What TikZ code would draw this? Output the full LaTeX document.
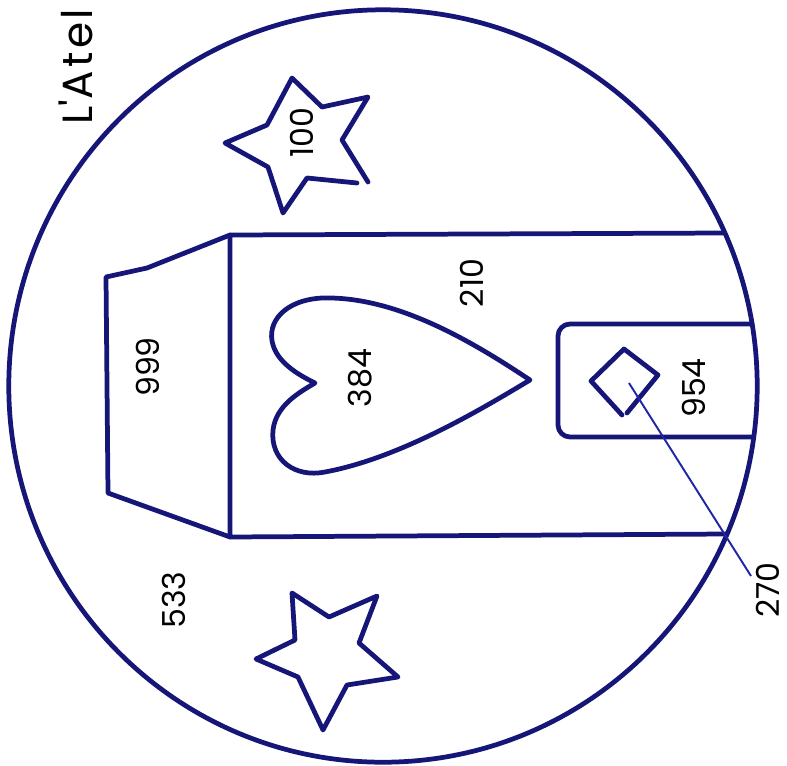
\documentclass[tikz,border=0pt]{standalone}
\usepackage{fontspec}
\setmainfont{Poppins}
\definecolor{ink}{RGB}{22,22,120}
\definecolor{leadc}{RGB}{30,40,165}
\begin{document}
\begin{tikzpicture}[x=0.01cm,y=-0.01cm,
  outline/.style={draw=ink,line width=1.35pt,line join=round,line cap=round},
  lbl/.style={rotate=90,font=\fontsize{9}{10}\selectfont,inner sep=0pt,text=black},
  leader/.style={draw=leadc,line width=0.55pt}]
\useasboundingbox (0,0) rectangle (787,766);
% outer circle
\draw[outline] (383,386) ellipse [x radius=3.74cm,y radius=3.76cm];
% title (cut off by the page edge, as in the reference)
\node[rotate=90,anchor=base west,inner sep=0pt,font=\fontsize{12}{14}\selectfont\addfontfeatures{LetterSpace=8}] (title) at (92,125) {L\textquotesingle Atel};
% top star
\draw[outline] (357,183) -- (307,178) -- (283,213) -- (268,167) -- (225,143) -- (267,125) -- (292,78) -- (322,107) -- (368,97) -- (342,140) -- (368,182);
% bottom star
\draw[outline] (292,593) -- (329,617) -- (377,596) -- (359,643) -- (398,677) -- (347,685) -- (323,730) -- (298,677) -- (256,659) -- (295,640) -- cycle;
% roof trapezoid
\draw[outline] (230,235) -- (147,268) -- (106,277) -- (108,493) -- (230,537);
% main body
\draw[outline] (724,233) -- (230,235) -- (230,537) -- (726,534);
% heart
\draw[outline] (530,380) .. controls (470,340) and (395,296) .. (322,298)
  .. controls (285,300) and (266,322) .. (273,345)
  .. controls (279,365) and (303,377) .. (315,383)
  .. controls (300,392) and (276,405) .. (273,430)
  .. controls (270,460) and (295,478) .. (325,472)
  .. controls (400,458) and (480,410) .. (530,380) -- cycle;
% door
\draw[outline,rounded corners=0.12cm] (752,324) -- (558,324) -- (558,437) -- (753,437);
% diamond
\draw[outline] (627,413) -- (658,375) -- (624,349) -- (591,381) -- (622,415);
% labels
\node[lbl] (n100) at (302,133) {100};
\node[lbl] (n999) at (148,367) {999};
\node[lbl] (n210) at (472,283) {210};
\node[lbl] (n384) at (360,378) {384};
\node[lbl] (n954) at (694,388) {954};
\node[lbl] (n533) at (174,600) {533};
\node[lbl] (n270) at (768,590) {270};
% leader line
\coordinate (dia) at (629,383);
\coordinate (leadend) at (751,576);
\draw[leader] (dia) -- (leadend);
\end{tikzpicture}
\end{document}
